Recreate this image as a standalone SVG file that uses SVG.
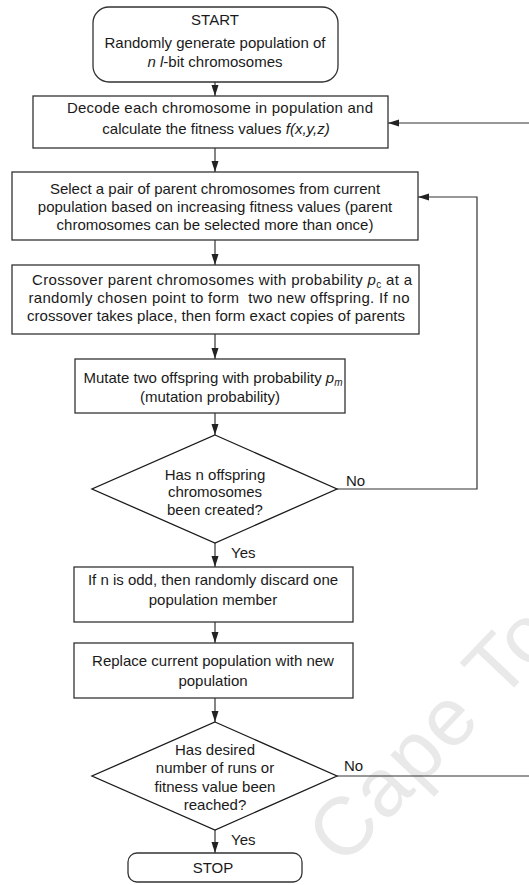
<svg xmlns="http://www.w3.org/2000/svg" width="529" height="885" viewBox="0 0 529 885">
<style>
text{font-family:"Liberation Sans",Arial,sans-serif;font-size:15px;fill:#1a1a1a;text-anchor:middle}
.box{fill:#fff;stroke:#333;stroke-width:1.3}
.dia{fill:#fff;stroke:#1a1a1a;stroke-width:1.3}
.conn{fill:none;stroke:#333;stroke-width:1.2}
.lbl{text-anchor:start}
.wm{font-size:82px;fill:#e9e9e9;text-anchor:start}
.it{font-style:italic}
</style>
<defs>
<marker id="ah" markerUnits="userSpaceOnUse" markerWidth="12" markerHeight="12" viewBox="0 0 12 12" refX="11" refY="6" orient="auto">
<path d="M0,2.5 L11,6 L0,9.5 Z" fill="#222"/>
</marker>
</defs>

<g id="watermark">
<text class="wm" transform="translate(343,868) rotate(-46.5)" letter-spacing="2">Cape To</text>
</g>

<g id="connectors">
<line class="conn" x1="215" y1="82" x2="215" y2="96" marker-end="url(#ah)"/>
<line class="conn" x1="215" y1="148" x2="215" y2="172" marker-end="url(#ah)"/>
<line class="conn" x1="215" y1="240" x2="215" y2="265" marker-end="url(#ah)"/>
<line class="conn" x1="215" y1="334" x2="215" y2="359" marker-end="url(#ah)"/>
<line class="conn" x1="215" y1="413" x2="215" y2="435" marker-end="url(#ah)"/>
<line class="conn" x1="215" y1="543" x2="215" y2="567" marker-end="url(#ah)"/>
<line class="conn" x1="215" y1="622" x2="215" y2="643" marker-end="url(#ah)"/>
<line class="conn" x1="215" y1="698" x2="215" y2="722" marker-end="url(#ah)"/>
<line class="conn" x1="215" y1="830" x2="215" y2="853" marker-end="url(#ah)"/>
<polyline class="conn" points="337,489 477,489 477,197 418,197" marker-end="url(#ah)"/>
<polyline class="conn" points="337,776 540,776 540,123 388,123" marker-end="url(#ah)"/>
<text class="lbl" x="346" y="486">No</text>
<text class="lbl" x="344" y="771">No</text>
<text class="lbl" x="231" y="558">Yes</text>
<text class="lbl" x="231" y="845">Yes</text>
</g>

<g id="start">
<rect class="box" x="93" y="7" width="245" height="75" rx="16"/>
<text x="215" y="25">START</text>
<text x="215" y="48">Randomly generate population of</text>
<text x="215" y="67"><tspan class="it">n l</tspan>-bit chromosomes</text>
</g>

<g id="decode">
<rect class="box" x="33" y="96" width="355" height="52"/>
<text x="220" y="113" textLength="306" lengthAdjust="spacing">Decode each chromosome in population and</text>
<text x="216" y="134">calculate the fitness values <tspan class="it">f(x,y,z)</tspan></text>
</g>

<g id="select">
<rect class="box" x="12" y="172" width="406" height="68"/>
<text x="215" y="194">Select a pair of parent chromosomes from current</text>
<text x="215" y="212">population based on increasing fitness values (parent</text>
<text x="215" y="230">chromosomes can be selected more than once)</text>
</g>

<g id="crossover">
<rect class="box" x="12" y="265" width="407" height="69"/>
<text x="222" y="285" textLength="380" lengthAdjust="spacing">Crossover parent chromosomes with probability <tspan class="it">p</tspan><tspan font-size="10" dy="3">c</tspan><tspan dy="-3"> at a</tspan></text>
<text x="219" y="303" textLength="381" lengthAdjust="spacing" xml:space="preserve">randomly chosen point to form  two new offspring. If no</text>
<text x="216" y="321" textLength="378" lengthAdjust="spacing">crossover takes place, then form exact copies of parents</text>
</g>

<g id="mutate">
<rect class="box" x="75" y="359" width="270" height="54"/>
<text x="213" y="383">Mutate two offspring with probability <tspan class="it">p</tspan><tspan class="it" font-size="10" dy="3">m</tspan></text>
<text x="210" y="402">(mutation probability)</text>
</g>

<g id="decision1">
<polygon class="dia" points="215,435 337,489 215,543 92,489"/>
<text x="215" y="480">Has n offspring</text>
<text x="215" y="497">chromosomes</text>
<text x="215" y="515">been created?</text>
</g>

<g id="discard">
<rect class="box" x="74" y="567" width="279" height="55"/>
<text x="213" y="585">If n is odd, then randomly discard one</text>
<text x="213" y="605">population member</text>
</g>

<g id="replace">
<rect class="box" x="74" y="643" width="279" height="55"/>
<text x="213" y="666">Replace current population with new</text>
<text x="213" y="686">population</text>
</g>

<g id="decision2">
<polygon class="dia" points="215,722 337,776 215,830 92,776"/>
<text x="215" y="755">Has desired</text>
<text x="215" y="773">number of runs or</text>
<text x="215" y="792">fitness value been</text>
<text x="215" y="810">reached?</text>
</g>

<g id="stop">
<rect class="box" x="128" y="853" width="174" height="29" rx="9"/>
<text x="213" y="873">STOP</text>
</g>
</svg>
